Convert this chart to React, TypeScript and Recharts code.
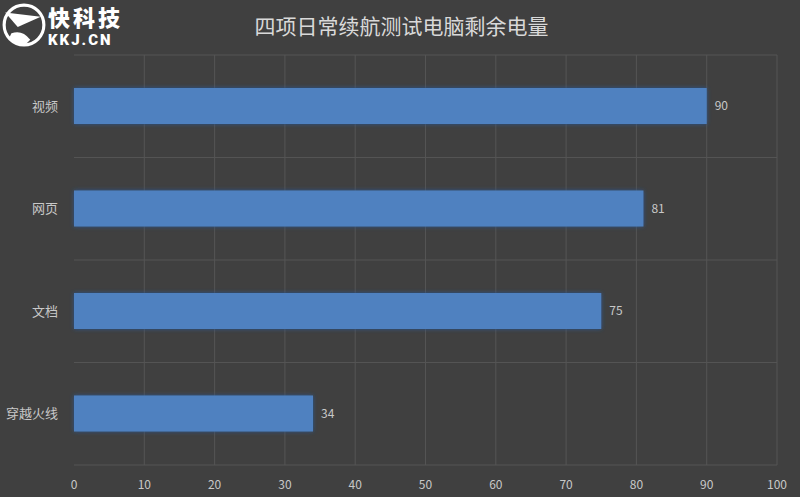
import { Bar, BarChart, CartesianGrid, LabelList, Rectangle, XAxis, YAxis } from 'recharts';

const categories = ['视频', '网页', '文档', '穿越火线'];
const remaining = [90, 81, 75, 34];
const xTicks = [0, 10, 20, 30, 40, 50, 60, 70, 80, 90, 100];

const data = categories.map((name, i) => ({ name, value: remaining[i] }));

const BG = '#404040';
const GRID = '#545454';
const TEXT = '#c8c8c8';

// watermark in the top-left corner
function Logo() {
  return (
    <div style={{ position: 'absolute', left: 0, top: 0, width: 140, height: 50 }}>
      <svg width={46} height={46} viewBox="0 0 44 44" style={{ position: 'absolute', left: 1, top: 2 }}>
        <circle cx={22} cy={22} r={19} fill="none" stroke="#fff" strokeWidth={3} />
        <path d="M4 10 L38 14 L16 24 Z" fill="#fff" />
        <path d="M10 30 Q20 26 28 36 L22 42 Q12 40 8 34 Z" fill="#fff" />
      </svg>
      <div
        style={{
          position: 'absolute',
          left: 48,
          top: 0,
          lineHeight: 'normal',
          fontSize: 22,
          fontWeight: 900,
          color: '#fff',
          fontFamily: '"Noto Sans CJK SC", sans-serif',
          letterSpacing: 3,
          whiteSpace: 'nowrap',
        }}
      >
        快科技
      </div>
      <div
        style={{
          position: 'absolute',
          left: 48,
          top: 31,
          lineHeight: 'normal',
          fontSize: 15,
          fontWeight: 900,
          color: '#fff',
          fontFamily: 'Roboto, sans-serif',
          letterSpacing: 2,
          whiteSpace: 'nowrap',
        }}
      >
        KKJ.CN
      </div>
    </div>
  );
}

export default function App() {
  return (
    <div style={{ position: 'absolute', left: 0, top: 0, width: 800, height: 497, background: BG, overflow: 'hidden' }}>
      <div
        style={{
          position: 'absolute',
          top: 10,
          left: 0,
          width: 803,
          textAlign: 'center',
          color: '#d9d9d9',
          fontSize: 21,
          fontFamily: '"Noto Sans CJK SC", sans-serif',
        }}
      >
        四项日常续航测试电脑剩余电量
      </div>
      <BarChart
        width={800}
        height={497}
        data={data}
        layout="vertical"
        margin={{ top: 55, right: 23, bottom: 0, left: 0 }}
        style={{ fontFamily: '"Noto Sans CJK SC", "Open Sans", sans-serif' }}
      >
        <defs>
          <filter id="glow" x="-10%" y="-30%" width="120%" height="160%">
            <feDropShadow dx={0} dy={0} stdDeviation={2} floodColor="#2a5590" floodOpacity={1} />
          </filter>
        </defs>
        <CartesianGrid
          stroke={GRID}
          horizontalCoordinatesGenerator={({ offset }: any) =>
            categories.map((_, i) => offset.top + (offset.height * i) / categories.length).concat(offset.top + offset.height)
          }
          verticalCoordinatesGenerator={({ offset }: any) =>
            xTicks.filter((t) => t > 0).map((t) => offset.left + (offset.width * t) / 100)
          }
        />
        <XAxis
          type="number"
          domain={[0, 100]}
          ticks={xTicks}
          axisLine={false}
          tickLine={false}
          tickMargin={9}
          height={32}
          tick={{ fill: TEXT, fontSize: 12 }}
          interval={0}
        />
        <YAxis
          type="category"
          dataKey="name"
          width={74}
          axisLine={false}
          tickLine={false}
          tickMargin={10}
          tick={{ fill: TEXT, fontSize: 13 }}
        />
        <Bar
          dataKey="value"
          fill="#4f81c0"
          barSize={36}
          isAnimationActive={false}
          shape={(props: any) => <Rectangle {...props} filter="url(#glow)" />}
        >
          <LabelList dataKey="value" position="right" offset={8} fill={TEXT} fontSize={12} />
        </Bar>
      </BarChart>
      <Logo />
    </div>
  );
}
